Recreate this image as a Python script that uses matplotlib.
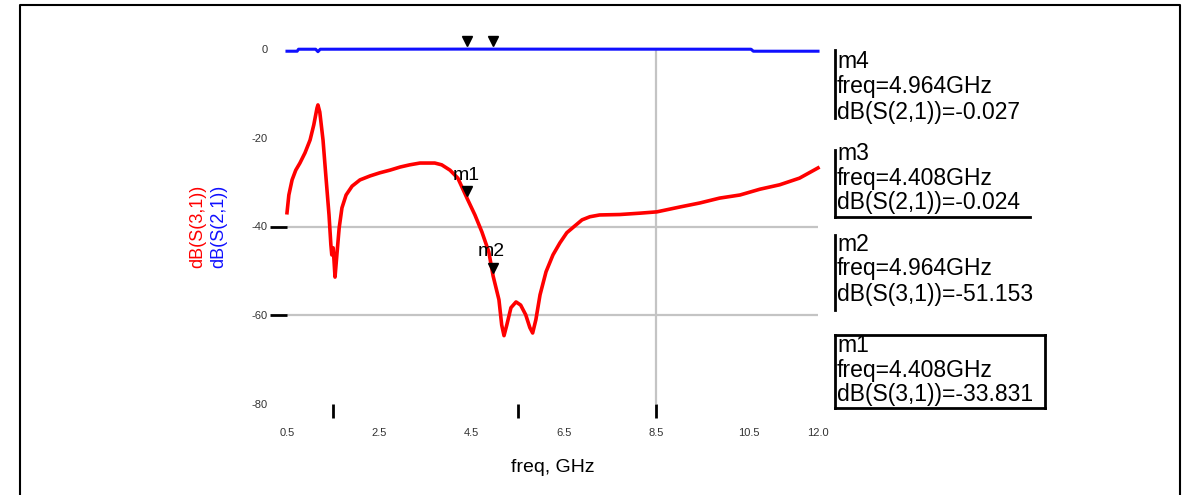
import matplotlib
matplotlib.use("Agg")
import matplotlib.pyplot as plt
from matplotlib.lines import Line2D
from matplotlib.transforms import offset_copy

plt.rcParams['font.family'] = ['Liberation Sans', 'DejaVu Sans']

# dB(S(3,1)) trace
freq_s31 = [0.50, 0.54, 0.61, 0.69, 0.78, 0.89, 1.00, 1.08, 1.15, 1.17, 1.21, 1.28,
            1.34, 1.41, 1.45, 1.47, 1.50, 1.52, 1.54, 1.58, 1.63, 1.69, 1.78, 1.91,
            2.08, 2.30, 2.51, 2.73, 2.95, 3.16, 3.38, 3.55, 3.70, 3.85, 4.03, 4.20,
            4.408, 4.57, 4.72, 4.87, 4.964, 5.09, 5.15, 5.20, 5.26, 5.35, 5.46, 5.56,
            5.67, 5.76, 5.82, 5.89, 5.98, 6.11, 6.26, 6.41, 6.56, 6.73, 6.89, 7.06,
            7.27, 7.71, 8.14, 8.51, 9.01, 9.44, 9.87, 10.31, 10.74, 11.17, 11.60, 12.0]
s31_db = [-36.9, -32.9, -29.5, -27.3, -25.7, -23.4, -20.5, -17.1, -13.3, -12.6, -14.2, -20.5,
          -28.4, -37.4, -44.1, -46.4, -44.8, -48.0, -51.4, -46.4, -40.3, -35.8, -32.9, -30.9,
          -29.5, -28.6, -27.9, -27.3, -26.6, -26.1, -25.7, -25.7, -25.7, -26.1, -27.3, -29.1,
          -33.831, -37.4, -41.2, -45.7, -51.153, -56.5, -62.2, -64.6, -62.2, -58.3, -57.0, -57.7,
          -59.9, -62.8, -64.0, -61.0, -55.4, -50.2, -46.4, -43.7, -41.4, -39.9, -38.5, -37.8,
          -37.4, -37.3, -37.0, -36.7, -35.6, -34.7, -33.6, -32.9, -31.6, -30.6, -29.1, -26.8]

# dB(S(2,1)) trace
freq_s21 = [0.50, 0.72, 0.75, 1.12, 1.17, 1.22, 4.408, 4.964, 10.55, 10.60, 12.0]
s21_db = [-0.5, -0.5, -0.05, -0.05, -0.6, -0.05, -0.024, -0.027, -0.05, -0.5, -0.5]

# marker readouts
markers = [
    ("m1", 4.408, -33.831, "s31", "freq=4.408GHz", "dB(S(3,1))=-33.831"),
    ("m2", 4.964, -51.153, "s31", "freq=4.964GHz", "dB(S(3,1))=-51.153"),
    ("m3", 4.408, -0.024, "s21", "freq=4.408GHz", "dB(S(2,1))=-0.024"),
    ("m4", 4.964, -0.027, "s21", "freq=4.964GHz", "dB(S(2,1))=-0.027"),
]

x_ticks = [0.5, 2.5, 4.5, 6.5, 8.5, 10.5, 12.0]
x_tick_labels = ["0.5", "2.5", "4.5", "6.5", "8.5", "10.5", "12.0"]
y_ticks = [0, -20, -40, -60, -80]
y_tick_labels = ["0", "-20", "-40", "-60", "-80"]

W, H = 1197, 495
fig = plt.figure(figsize=(W / 100, H / 100), dpi=100)


def fx(px):
    return px / W


def fy(py):
    return 1 - py / H


ax = fig.add_axes([fx(287), fy(404), fx(818) - fx(287), fy(49) - fy(404)])
ax.set_xlim(0.5, 12.0)
ax.set_ylim(-80, 0)
for s in ax.spines.values():
    s.set_visible(False)

# grid lines
for gy in (-40, -60):
    ax.axhline(gy, color="#c4c4c4", lw=1.6, zorder=1)
ax.axvline(8.5, color="#c4c4c4", lw=1.6, zorder=1)

ax.plot(freq_s21, s21_db, color="#1010ff", lw=2.2, zorder=3, clip_on=False)
ax.plot(freq_s31, s31_db, color="#ff0000", lw=2.6, zorder=3, clip_on=False)

# ticks
ax.xaxis.remove_overlapping_locs = False
ax.yaxis.remove_overlapping_locs = False
ax.set_xticks(x_ticks)
ax.set_xticklabels(x_tick_labels)
ax.set_yticks(y_ticks)
ax.set_yticklabels(y_tick_labels)
ax.tick_params(axis="x", length=0, pad=17, labelsize=8, labelcolor="#333333")
ax.tick_params(axis="y", length=0, pad=14, labelsize=8, labelcolor="#333333")
ax.set_xticks([1.5, 5.5, 8.5], minor=True)
ax.set_yticks([-40, -60], minor=True)
ax.tick_params(axis="x", which="minor", length=10, width=2, color="black")
ax.tick_params(axis="y", which="minor", length=12, width=2, color="black")

# marker triangles and labels
tri = offset_copy(ax.transData, fig=fig, x=0, y=8, units="dots")
for name, f, v, trace, _, _ in markers:
    ax.plot([f], [v], marker="v", color="black", ms=7, transform=tri, zorder=5,
            clip_on=False)
    if trace == "s31":
        ax.annotate(name, (f, v), xytext=(-15, 24), textcoords="offset pixels",
                    ha="left", va="center", fontsize=14, color="black")

# axis titles
fig.text(fx(553), fy(468), "freq, GHz", ha="center", va="center", fontsize=14)
fig.text(fx(198), fy(226), "dB(S(3,1))", ha="center", va="center", rotation=90,
         fontsize=13, color="#ff0000")
fig.text(fx(219), fy(226), "dB(S(2,1))", ha="center", va="center", rotation=90,
         fontsize=13, color="#1010ff")

# marker readout blocks
blocks = {
    "m4": (62, 50, 118, False, False),
    "m3": (153, 150, 217, True, False),
    "m2": (244, 235, 310, False, False),
    "m1": (345, 335, 408, True, True),
}
for name, f, v, trace, ftxt, vtxt in markers:
    y0, top, bot, has_bottom, full = blocks[name]
    for i, t in enumerate((name, ftxt, vtxt)):
        fig.text(fx(837), fy(y0 + i * 25), t, ha="left", va="center", fontsize=16.5)
    fig.add_artist(Line2D([fx(835), fx(835)], [fy(top), fy(bot)], color="black", lw=2))
    if has_bottom:
        right = 1045 if full else 1030
        fig.add_artist(Line2D([fx(835), fx(right)], [fy(bot), fy(bot)], color="black", lw=2))
    if full:
        fig.add_artist(Line2D([fx(835), fx(1045)], [fy(top), fy(top)], color="black", lw=2))
        fig.add_artist(Line2D([fx(1045), fx(1045)], [fy(top), fy(bot)], color="black", lw=2))

# outer frame
fig.add_artist(Line2D([fx(20), fx(20), fx(1180), fx(1180)],
                      [fy(500), fy(5), fy(5), fy(500)], color="black", lw=1.5))

fig.savefig("out.png", dpi=100)
